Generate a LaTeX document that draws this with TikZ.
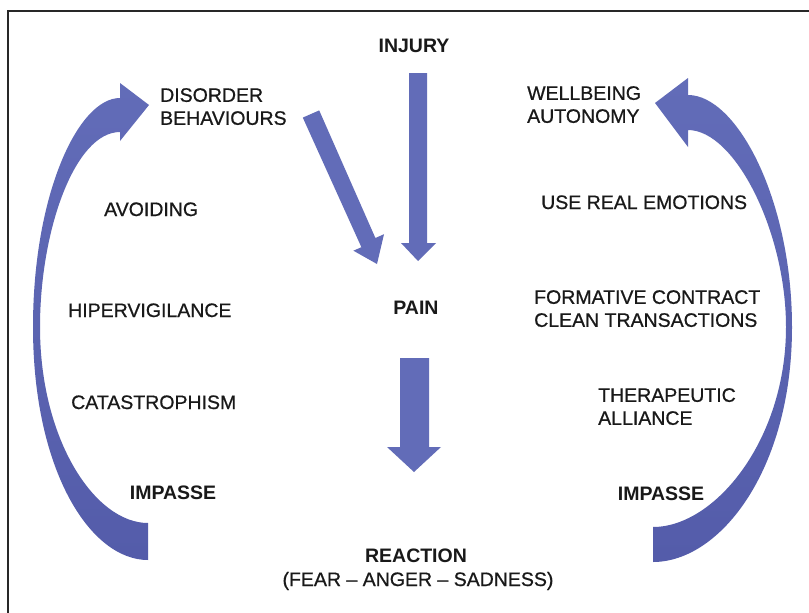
\documentclass[tikz,border=0pt]{standalone}
\usepackage{fontspec}
\setmainfont{Liberation Sans}
\newfontfamily\lblfont[FakeBold=0.7,Ligatures=TeX]{Liberation Sans}
\definecolor{arrowblue}{RGB}{98,108,184}
\definecolor{arrowlight}{RGB}{122,132,204}
\definecolor{arrowdark}{RGB}{84,92,170}
\definecolor{txt}{RGB}{25,25,25}
\definecolor{frame}{RGB}{40,40,40}
\begin{document}
\begin{tikzpicture}[x=1pt,y=-1pt,
  lbl/.style={inner sep=0pt, font=\lblfont\fontsize{19.5}{23}\selectfont, text=txt, align=left},
  blbl/.style={inner sep=0pt, font=\fontsize{19.5}{23}\selectfont\bfseries, text=txt, align=center},
  band/.style={draw=none, top color=arrowblue, middle color=arrowlight, bottom color=arrowdark},
  blockarrow/.style={draw=none, fill=arrowblue}]
\useasboundingbox (0,0) rectangle (809,613);
\fill[white] (0,0) rectangle (809,613);
% frame (top and left edges)
\draw[frame, line width=1.6pt] (809,11) -- (8,11) -- (8,613);

% ---- labels ----
\node[blbl, anchor=base] (injury) at (414,52) {INJURY};
\node[lbl, anchor=north west] (disorder) at (160,88) {DISORDER\\BEHAVIOURS};
\node[lbl, anchor=north west] (wellbeing) at (527,86) {WELLBEING\\AUTONOMY};
\node[lbl, anchor=base west] (avoiding) at (104,216) {AVOIDING};
\node[lbl, anchor=base west] (emotions) at (541,209) {USE REAL EMOTIONS};
\node[lbl, anchor=base west] (hiper) at (68,317) {HIPERVIGILANCE};
\node[blbl, anchor=base] (pain) at (416,314) {PAIN};
\node[lbl, anchor=north west] (contract) at (534,290) {FORMATIVE CONTRACT\\CLEAN TRANSACTIONS};
\node[lbl, anchor=base west] (catas) at (71,409) {CATASTROPHISM};
\node[lbl, anchor=north west] (alliance) at (598,388) {THERAPEUTIC\\ALLIANCE};
\node[blbl, anchor=base] (impL) at (173,499) {IMPASSE};
\node[blbl, anchor=base] (impR) at (661,500) {IMPASSE};
\node[blbl, anchor=base] (reaction) at (416,562) {REACTION};
\node[lbl, anchor=base] (feelings) at (418,586) {(FEAR – ANGER – SADNESS)};

% ---- left curved arrow (impasse -> disorder behaviours) ----
\coordinate (Ltip) at (149,105);
\coordinate (Ltail) at (148,541);
\path[band]
  (Ltip) -- (120,83) -- (120,98)
  .. controls (78,98) and (33,195) .. (33,327)
  .. controls (33,470) and (90,560) .. (148,560)
  -- (148,523)
  .. controls (95,523) and (40,440) .. (40,327)
  .. controls (40,230) and (75,132) .. (120,132)
  -- (120,141) -- cycle;

% ---- right curved arrow (impasse -> wellbeing autonomy) ----
\coordinate (Rtip) at (655,103);
\coordinate (Rtail) at (653,544);
\path[band]
  (Rtip) -- (688,78) -- (688,95)
  .. controls (737,95) and (792,200) .. (792,327)
  .. controls (792,470) and (720,562) .. (653,562)
  -- (653,527)
  .. controls (715,527) and (786,440) .. (786,327)
  .. controls (786,232) and (735,130) .. (688,130)
  -- (688,147) -- cycle;

% ---- injury -> pain ----
\path[blockarrow] (409,73) -- (427,73) -- (427,243) -- (436,243) -- (418,261)
  -- (401,243) -- (409,243) -- cycle;

% ---- disorder behaviours -> pain ----
\path[blockarrow] (302.8,117.6) -- (319.2,110.4) -- (375.4,238.0) -- (384.0,234.2)
  -- (377,264) -- (353.4,250.7) -- (361.4,247.2) -- cycle;

% ---- pain -> reaction ----
\path[blockarrow] (400,358) -- (429,358) -- (429,447) -- (441,447) -- (414,472)
  -- (387,447) -- (400,447) -- cycle;
\end{tikzpicture}
\end{document}
